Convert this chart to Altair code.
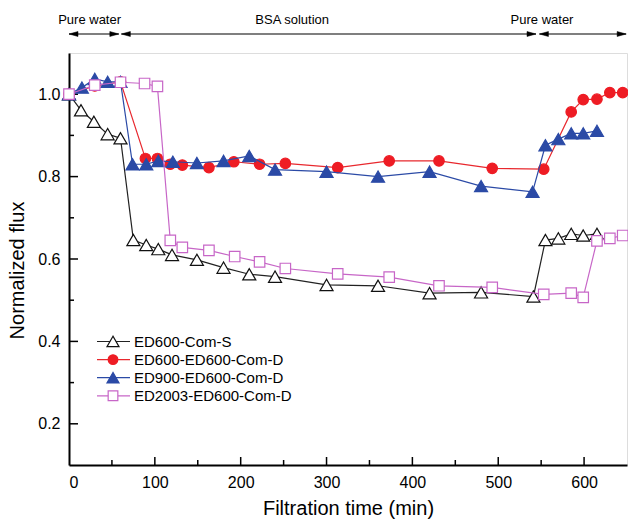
import altair as alt
import pandas as pd

FONT = "Liberation Sans"

series_names = ["ED600-Com-S", "ED600-ED600-Com-D", "ED900-ED600-Com-D", "ED2003-ED600-Com-D"]

s1_time = [0, 14, 29, 45, 60, 75, 90, 104, 120, 149, 180, 210, 240, 300, 360, 420, 480, 541, 555, 570, 585, 599, 615]
s1_flux = [1.0, 0.961, 0.933, 0.903, 0.893, 0.646, 0.634, 0.624, 0.610, 0.598, 0.579, 0.563, 0.557,
           0.537, 0.535, 0.517, 0.519, 0.509, 0.646, 0.650, 0.661, 0.657, 0.661]

s2_time = [0, 30, 60, 89, 103, 118, 132, 163, 192, 222, 252, 313, 373, 431, 493, 553, 585, 599, 615, 630, 645]
s2_flux = [1.0, 1.02, 1.03, 0.844, 0.844, 0.830, 0.828, 0.822, 0.836, 0.830, 0.832, 0.822, 0.838,
           0.838, 0.820, 0.818, 0.957, 0.987, 0.988, 1.004, 1.004]

s3_time = [0, 15, 30, 45, 60, 74, 90, 104, 121, 149, 180, 210, 240, 300, 360, 420, 480, 540, 555, 570, 585, 599, 615]
s3_flux = [1.0, 1.016, 1.037, 1.03, 1.03, 0.830, 0.830, 0.838, 0.836, 0.833, 0.838, 0.850, 0.817,
           0.812, 0.800, 0.812, 0.777, 0.763, 0.876, 0.891, 0.905, 0.905, 0.911]

s4_time = [0, 30, 60, 88, 103, 118, 132, 163, 193, 222, 252, 313, 373, 431, 493, 553, 585, 599, 615, 630, 645]
s4_flux = [1.0, 1.022, 1.029, 1.026, 1.019, 0.645, 0.628, 0.621, 0.606, 0.593, 0.577, 0.564, 0.556,
           0.535, 0.531, 0.514, 0.517, 0.507, 0.644, 0.650, 0.657]

phase_labels = ["Pure water", "BSA solution", "Pure water"]
phase_start = [0, 61, 548]
phase_end = [58, 544, 649]
phase_label_x = [24, 260, 551]

x_labels = [0, 100, 200, 300, 400, 500, 600]
x_major = [100, 200, 300, 400, 500, 600]
x_minor = [50, 150, 250, 350, 450, 550]
y_labels = [0.2, 0.4, 0.6, 0.8, 1.0]
y_minor = [0.3, 0.5, 0.7, 0.9]

W, H = 558, 412

xscale = alt.Scale(domain=[0, 650], nice=False, zero=False)
yscale = alt.Scale(domain=[0.1, 1.1], nice=False, zero=False)

xaxis = alt.Axis(values=x_labels, format="d", ticks=False, tickSize=0, grid=False,
                 labelFont=FONT, labelFontSize=16, labelColor="black", labelPadding=9,
                 domainColor="black", domainWidth=2,
                 title="Filtration time (min)", titleFont=FONT, titleFontSize=20,
                 titleFontWeight="normal", titleColor="black", titlePadding=8)
yaxis = alt.Axis(values=y_labels, format=".1f", ticks=False, tickSize=0, grid=False,
                 labelFont=FONT, labelFontSize=16, labelColor="black", labelPadding=9,
                 domainColor="black", domainWidth=2,
                 title="Normalized flux", titleFont=FONT, titleFontSize=20,
                 titleFontWeight="normal", titleColor="black", titlePadding=10, titleY=217)


def X(field):
    return alt.X(field, type="quantitative", scale=xscale, axis=xaxis)


def Y(field):
    return alt.Y(field, type="quantitative", scale=yscale, axis=yaxis)


layers = []

# tick marks (inward)
xt_major = alt.Chart(pd.DataFrame({"t": x_major})).mark_rule(color="black", strokeWidth=1.5).encode(
    x=X("t"), y=alt.value(H), y2=alt.value(H - 8))
xt_minor = alt.Chart(pd.DataFrame({"t": x_minor})).mark_rule(color="black", strokeWidth=1.5).encode(
    x=X("t"), y=alt.value(H), y2=alt.value(H - 5))
yt_major = alt.Chart(pd.DataFrame({"v": y_labels})).mark_rule(color="black", strokeWidth=1.5).encode(
    y=Y("v"), x=alt.value(0), x2=alt.value(9))
yt_minor = alt.Chart(pd.DataFrame({"v": y_minor})).mark_rule(color="black", strokeWidth=1.5).encode(
    y=Y("v"), x=alt.value(0), x2=alt.value(5))
layers += [xt_major, xt_minor, yt_major, yt_minor]

styles = [
    dict(line="#222222", shape="triangle-up", fill="white", stroke="#111111", size=170),
    dict(line="#e8282e", shape="circle", fill="#ee1c24", stroke="#ee1c24", size=110),
    dict(line="#2b4aa6", shape="triangle-up", fill="#2b4aa6", stroke="#2b4aa6", size=170),
    dict(line="#c766c7", shape="square", fill="white", stroke="#c766c7", size=110),
]
data = [(s1_time, s1_flux), (s2_time, s2_flux), (s3_time, s3_flux), (s4_time, s4_flux)]

for (t, f), st in zip(data, styles):
    df = pd.DataFrame({"time": t, "flux": f})
    layers.append(alt.Chart(df).mark_line(color=st["line"], strokeWidth=1.2).encode(x=X("time"), y=Y("flux")))
    layers.append(alt.Chart(df).mark_point(shape=st["shape"], filled=True, fill=st["fill"], stroke=st["stroke"],
                                           strokeWidth=1.2, size=st["size"], opacity=1).encode(
        x=X("time"), y=Y("flux")))

# top phase annotations
phase_df = pd.DataFrame({"label": phase_labels, "start": phase_start, "end": phase_end, "lx": phase_label_x})
layers.append(alt.Chart(phase_df).mark_rule(color="black", strokeWidth=1.2).encode(
    x=X("start"), x2="end", y=alt.value(-19)))
layers.append(alt.Chart(phase_df).mark_point(shape="M2,-0.55L0,0L2,0.55Z", filled=True, fill="black",
                                             stroke="black", strokeWidth=0.5, size=81, opacity=1).encode(
    x=X("start"), y=alt.value(-19)))
layers.append(alt.Chart(phase_df).mark_point(shape="M-2,-0.55L0,0L-2,0.55Z", filled=True, fill="black",
                                             stroke="black", strokeWidth=0.5, size=81, opacity=1).encode(
    x=X("end"), y=alt.value(-19)))
layers.append(alt.Chart(phase_df).mark_text(font=FONT, fontSize=13, color="black", baseline="middle",
                                            align="center").encode(
    x=X("lx"), y=alt.value(-33), text="label:N"))

# legend (manual)
for i, (name, st) in enumerate(zip(series_names, styles)):
    ry = 288.5 + 18.1 * i
    ldf = pd.DataFrame({"name": [name]})
    layers.append(alt.Chart(ldf).mark_rule(color=st["line"], strokeWidth=1.2).encode(
        x=alt.value(28), x2=alt.value(61), y=alt.value(ry)))
    layers.append(alt.Chart(ldf).mark_point(shape=st["shape"], filled=True, fill=st["fill"], stroke=st["stroke"],
                                            strokeWidth=1.2, size=st["size"] * 0.85, opacity=1).encode(
        x=alt.value(44), y=alt.value(ry)))
    layers.append(alt.Chart(ldf).mark_text(font=FONT, fontSize=15, color="black", align="left",
                                           baseline="middle").encode(
        x=alt.value(65), y=alt.value(ry), text="name:N"))

chart = alt.layer(*layers).properties(
    width=W, height=H,
    autosize=alt.AutoSizeParams(type="none"),
    padding={"left": 69, "top": 53, "right": 1, "bottom": 59},
).configure_view(stroke="#8a8a8a", strokeWidth=1).configure(background="white")

chart.save("out.html", embed_options={"renderer": "svg", "actions": False})
